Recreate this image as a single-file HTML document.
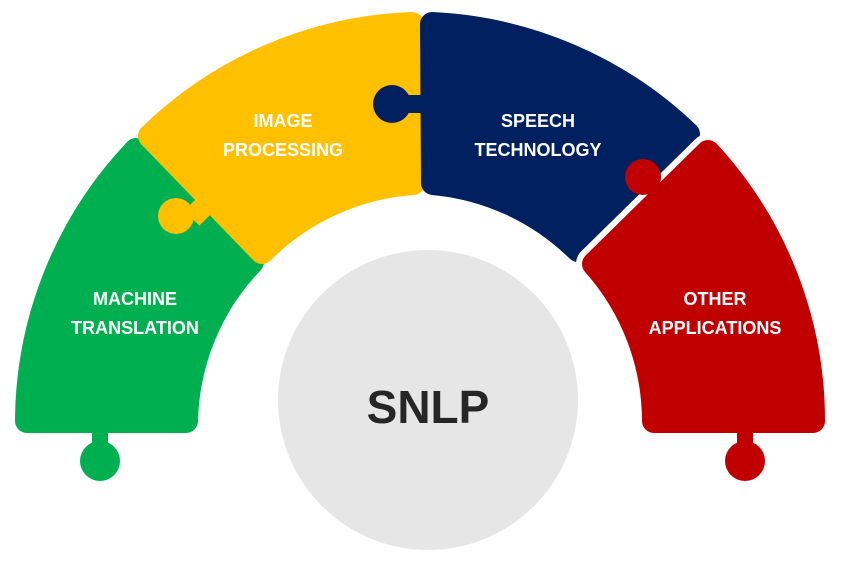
<!DOCTYPE html>
<html><head><style>
body{margin:0;background:#fff;width:867px;height:572px;overflow:hidden}
svg{display:block}
text{font-family:"Liberation Sans",sans-serif;font-weight:bold;fill:#fff;text-anchor:middle}
</style></head><body>
<svg width="867" height="572" viewBox="0 0 867 572">
<g stroke-linejoin="round" stroke-width="24">
<path fill="#00b050" stroke="#00b050" d="M27 421 A396 396 0 0 1 136 150 L252 262 A237 237 0 0 0 186 421 Z"/>
<path fill="#ffc000" stroke="#ffc000" d="M150 136 A396 396 0 0 1 412 24 L413 183 A237 237 0 0 0 262 252 Z"/>
<path fill="#002060" stroke="#002060" d="M432 24 A396 396 0 0 1 688 134 L578 250 A237 237 0 0 0 433 183 Z"/>
<path fill="#fff" stroke="#fff" stroke-width="36" d="M708 152 A396 396 0 0 1 813 421 L654 421 A237 237 0 0 0 594 264 Z"/>
<path fill="#c00000" stroke="#c00000" d="M708 152 A396 396 0 0 1 813 421 L654 421 A237 237 0 0 0 594 264 Z"/>
</g>
<rect x="92" y="425" width="16" height="25" fill="#00b050"/>
<circle cx="100" cy="461" r="20" fill="#00b050"/>
<path d="M190 205 L205 220" stroke="#ffc000" stroke-width="16"/>
<circle cx="176" cy="216" r="18" fill="#ffc000"/>
<rect x="400" y="95" width="24" height="18" fill="#002060"/>
<circle cx="392" cy="104" r="19" fill="#002060"/>
<path d="M645 180 L664 200" stroke="#c00000" stroke-width="16"/>
<circle cx="643" cy="177" r="18" fill="#c00000"/>
<rect x="737" y="425" width="16" height="25" fill="#c00000"/>
<circle cx="745" cy="461" r="20" fill="#c00000"/>
<circle cx="428" cy="400" r="150" fill="#e6e6e6"/>
<text x="428" y="423" style="fill:#262626;font-size:46px">SNLP</text>
<g font-size="18">
<text x="135" y="305">MACHINE</text>
<text x="135" y="334">TRANSLATION</text>
<text x="283" y="127">IMAGE</text>
<text x="283" y="156">PROCESSING</text>
<text x="538" y="127">SPEECH</text>
<text x="538" y="156">TECHNOLOGY</text>
<text x="715" y="305">OTHER</text>
<text x="715" y="334">APPLICATIONS</text>
</g>
</svg>
</body></html>
